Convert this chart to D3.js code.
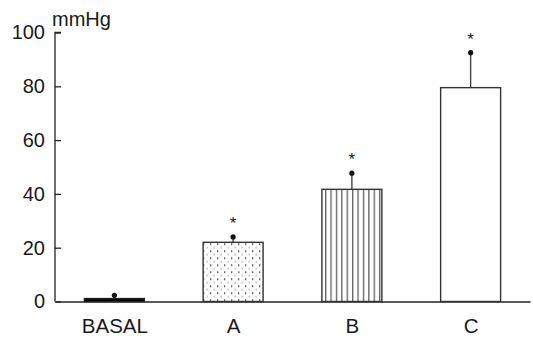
<html>
<head>
    <script src="https://d3js.org/d3.v7.min.js"></script>
    <style>
        body { margin: 0; background: white; }
        text { font-family: "Liberation Sans", Arial, sans-serif; fill: #1a1a1a; }
    </style>
</head>
<body>
<svg id="chart" width="533" height="338"></svg>
<script>
    // data
    const groups = ["BASAL", "A", "B", "C"];
    const means = [1.1, 22, 41.7, 79.5];
    const errTops = [2.3, 24, 47.7, 92.5];
    const significant = [false, true, true, true];
    const fills = ["black", "url(#dots)", "url(#stripes)", "white"];
    const yTicks = [0, 20, 40, 60, 80, 100];

    const svg = d3.select("svg#chart");
    const margin = { top: 32.5, right: 3, bottom: 36.5, left: 55 };
    const width = +svg.attr("width") - margin.left - margin.right;
    const height = +svg.attr("height") - margin.top - margin.bottom;

    // hatch patterns
    const defs = svg.append("defs");
    const dots = defs.append("pattern")
        .attr("id", "dots").attr("patternUnits", "userSpaceOnUse")
        .attr("width", 7).attr("height", 7);
    dots.append("rect").attr("width", 7).attr("height", 7).attr("fill", "white");
    dots.append("rect").attr("x", 1).attr("y", 1).attr("width", 1.3).attr("height", 1.3).attr("fill", "#111");
    dots.append("rect").attr("x", 4.5).attr("y", 4.5).attr("width", 1.3).attr("height", 1.3).attr("fill", "#999");

    const stripes = defs.append("pattern")
        .attr("id", "stripes").attr("patternUnits", "userSpaceOnUse")
        .attr("width", 5.4).attr("height", 10);
    stripes.append("rect").attr("width", 5.4).attr("height", 10).attr("fill", "white");
    stripes.append("line").attr("x1", 0.7).attr("x2", 0.7).attr("y1", 0).attr("y2", 10)
        .attr("stroke", "#444").attr("stroke-width", 1.1);

    const g = svg.append("g")
        .attr("transform", "translate(" + margin.left + "," + margin.top + ")");

    const x = d3.scalePoint().domain(groups).range([0, width]).padding(0.5);
    const barW = x.step() * 0.505;
    const y = d3.scaleLinear().domain([0, 100]).range([height, 0]);

    // y axis, ticks pointing inward
    const yAxis = g.append("g")
        .call(d3.axisRight(y).tickValues(yTicks).tickSize(6).tickFormat(d3.format("d")));
    yAxis.select(".domain").attr("stroke", "#222").attr("stroke-width", 1.3)
        .attr("d", "M0," + y(0) + "V" + y(100) + "H6");
    yAxis.selectAll(".tick line").attr("stroke", "#222").attr("stroke-width", 1.3);
    yAxis.selectAll(".tick text")
        .attr("x", -10).attr("text-anchor", "end")
        .style("font-size", "20px").attr("fill", "#1a1a1a");

    // x axis, small ticks pointing up
    const xAxis = g.append("g")
        .attr("transform", "translate(0," + height + ")")
        .call(d3.axisTop(x).tickSize(4).tickSizeOuter(0));
    xAxis.select(".domain").attr("stroke", "#222").attr("stroke-width", 1.3);
    xAxis.selectAll(".tick line").attr("stroke", "#333").attr("stroke-width", 1.3);
    xAxis.selectAll(".tick text")
        .attr("y", 24).attr("dy", "0.35em")
        .style("font-size", "20.5px").attr("fill", "#1a1a1a");

    // error bars
    g.selectAll(".err").data(groups)
        .join("line")
        .attr("class", "err")
        .attr("x1", d => x(d)).attr("x2", d => x(d))
        .attr("y1", (d, i) => y(means[i]))
        .attr("y2", (d, i) => y(errTops[i]))
        .attr("stroke", "#444").attr("stroke-width", 1.4);

    // bars
    g.selectAll(".bar").data(groups)
        .join("rect")
        .attr("class", "bar")
        .attr("x", d => x(d) - barW / 2)
        .attr("width", barW)
        .attr("y", (d, i) => y(means[i]))
        .attr("height", (d, i) => y(0) - y(means[i]))
        .attr("fill", (d, i) => fills[i])
        .attr("stroke", (d, i) => i === 0 ? "#222" : "#333")
        .attr("stroke-width", 1.4);

    g.selectAll(".dot").data(groups)
        .join("circle")
        .attr("class", "dot")
        .attr("cx", d => x(d))
        .attr("cy", (d, i) => y(errTops[i]))
        .attr("r", 2.6)
        .attr("fill", "#111");

    // significance stars
    g.selectAll(".star").data(groups.filter((d, i) => significant[i]))
        .join("text")
        .attr("class", "star")
        .attr("x", d => x(d))
        .attr("y", d => y(errTops[groups.indexOf(d)]) - 8)
        .attr("text-anchor", "middle")
        .style("font-size", "17px")
        .text("*");

    // unit label
    g.append("text")
        .attr("x", -3).attr("y", -7)
        .style("font-size", "20px")
        .text("mmHg");
</script>
</body>
</html>
